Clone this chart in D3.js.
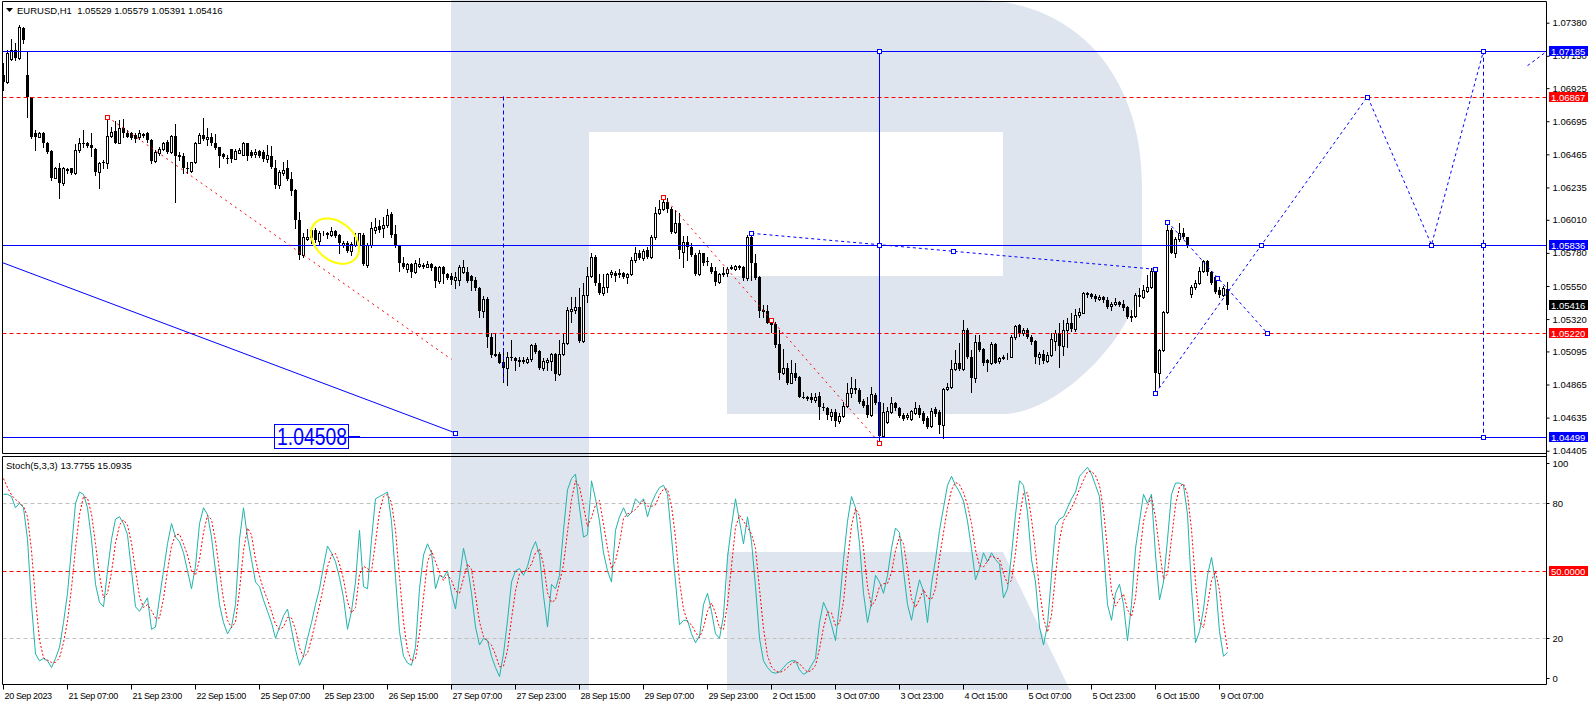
<!DOCTYPE html>
<html>
<head>
<meta charset="utf-8">
<script src="https://cdn.jsdelivr.net/npm/d3@7"></script>
<style>
  body { margin: 0; background: #fff; }
  svg text { font-family: "Liberation Sans", Arial, sans-serif; }
</style>
</head>
<body>
<div id="chart"></div>
<script>
// EURUSD H1 candles (bar 0 = 20 Sep 2023)
var opens = [
  1.07017,1.06970,1.07126,1.07190,1.07133,1.07346,1.07017,1.06866,1.06611,1.06588,
  1.06616,1.06546,1.06491,1.06303,1.06368,1.06264,1.06361,1.06368,1.06333,1.06495,
  1.06546,1.06546,1.06530,1.06500,1.06345,1.06414,1.06403,1.06593,1.06627,1.06546,
  1.06651,1.06616,1.06611,1.06600,1.06583,1.06607,1.06616,1.06565,1.06421,1.06477,
  1.06500,1.06553,1.06484,1.06593,1.06461,1.06454,1.06373,1.06352,1.06410,1.06546,
  1.06600,1.06570,1.06588,1.06546,1.06514,1.06468,1.06437,1.06505,1.06435,1.06477,
  1.06461,1.06542,1.06484,1.06468,1.06491,1.06484,1.06430,1.06454,1.06368,1.06252,
  1.06333,1.06368,1.06291,1.06217,1.06009,1.05765,1.05879,1.05939,1.05939,1.05865,
  1.05916,1.05916,1.05905,1.05935,1.05905,1.05835,1.05851,1.05796,1.05835,1.05835,
  1.05905,1.05696,1.05835,1.05939,1.05967,1.05951,1.05974,1.06051,1.05909,1.05828,
  1.05712,1.05666,1.05701,1.05650,1.05689,1.05696,1.05684,1.05700,1.05684,1.05587,
  1.05684,1.05633,1.05619,1.05591,1.05591,1.05649,1.05649,1.05619,1.05591,1.05533,
  1.05378,1.05457,1.05193,1.05070,1.05077,1.05024,1.04977,1.05058,1.05047,1.05035,
  1.05028,1.05024,1.05040,1.05140,1.05098,1.04977,1.05024,1.05031,1.05077,1.04938,
  1.05077,1.05156,1.05378,1.05383,1.05406,1.05170,1.05487,1.05619,1.05754,1.05568,
  1.05499,1.05545,1.05633,1.05638,1.05633,1.05638,1.05610,1.05633,1.05730,1.05781,
  1.05742,1.05800,1.05754,1.05888,1.06055,1.06083,1.06136,1.06083,1.05927,1.05985,
  1.05788,1.05858,1.05823,1.05765,1.05633,1.05777,1.05726,1.05684,1.05656,1.05580,
  1.05633,1.05638,1.05672,1.05666,1.05684,1.05679,1.05603,1.05888,1.05712,1.05615,
  1.05378,1.05378,1.05309,1.05286,1.05147,1.04943,1.04977,1.04878,1.04943,1.04919,
  1.04780,1.04776,1.04776,1.04757,1.04785,1.04711,1.04699,1.04647,1.04677,1.04614,
  1.04647,1.04716,1.04809,1.04839,1.04827,1.04753,1.04723,1.04654,1.04793,1.04746,
  1.04508,1.04607,1.04677,1.04739,1.04700,1.04654,1.04642,1.04623,1.04670,1.04700,
  1.04665,1.04630,1.04577,1.04693,1.04677,1.04584,1.04832,1.04846,1.04971,1.05017,
  1.04971,1.05244,1.05059,1.04908,1.05163,1.05110,1.05036,1.05017,1.05147,1.05031,
  1.05047,1.05054,1.05059,1.05193,1.05279,1.05221,1.05244,1.05198,1.05170,1.05054,
  1.05078,1.05031,1.05071,1.05170,1.05226,1.05133,1.05244,1.05295,1.05249,1.05349,
  1.05365,1.05495,1.05495,1.05481,1.05458,1.05476,1.05453,1.05411,1.05425,1.05441,
  1.05425,1.05402,1.05337,1.05342,1.05488,1.05471,1.05518,1.05541,1.05650,1.04948,
  1.05105,1.05372,1.05939,1.05782,1.05875,1.05921,1.05888,1.05495,1.05541,1.05573,
  1.05657,1.05726,1.05650,1.05610,1.05522,1.05488,1.05529
];
var highs = [
  1.07098,1.07190,1.07265,1.07242,1.07364,1.07353,1.07179,1.06866,1.06634,1.06623,
  1.06623,1.06553,1.06495,1.06380,1.06403,1.06380,1.06373,1.06373,1.06537,1.06577,
  1.06634,1.06553,1.06616,1.06507,1.06414,1.06426,1.06727,1.06658,1.06699,1.06704,
  1.06709,1.06634,1.06623,1.06611,1.06634,1.06616,1.06623,1.06570,1.06495,1.06519,
  1.06553,1.06565,1.06600,1.06676,1.06484,1.06472,1.06414,1.06414,1.06553,1.06611,
  1.06715,1.06646,1.06611,1.06604,1.06519,1.06477,1.06461,1.06505,1.06500,1.06507,
  1.06553,1.06546,1.06495,1.06500,1.06495,1.06495,1.06530,1.06523,1.06426,1.06356,
  1.06414,1.06426,1.06345,1.06222,1.06067,1.05916,1.05944,1.05962,1.05951,1.05935,
  1.05935,1.05928,1.05958,1.05939,1.05909,1.05865,1.05865,1.05858,1.05916,1.05921,
  1.05916,1.05847,1.05997,1.06020,1.06009,1.06032,1.06083,1.06067,1.05974,1.05835,
  1.05754,1.05712,1.05708,1.05731,1.05742,1.05707,1.05726,1.05707,1.05689,1.05689,
  1.05689,1.05642,1.05638,1.05649,1.05696,1.05730,1.05684,1.05626,1.05615,1.05540,
  1.05480,1.05475,1.05225,1.05225,1.05093,1.05116,1.05093,1.05174,1.05058,1.05058,
  1.05058,1.05058,1.05147,1.05156,1.05105,1.05047,1.05047,1.05086,1.05086,1.05174,
  1.05221,1.05406,1.05475,1.05475,1.05533,1.05568,1.05679,1.05777,1.05765,1.05633,
  1.05633,1.05642,1.05661,1.05656,1.05666,1.05649,1.05642,1.05749,1.05818,1.05800,
  1.05805,1.05823,1.05904,1.06101,1.06147,1.06171,1.06159,1.06101,1.06078,1.06055,
  1.05897,1.05897,1.05846,1.05777,1.05800,1.05781,1.05754,1.05707,1.05684,1.05638,
  1.05679,1.05684,1.05696,1.05696,1.05698,1.05689,1.05904,1.05916,1.05772,1.05619,
  1.05418,1.05418,1.05325,1.05302,1.05244,1.05109,1.05012,1.05035,1.05012,1.04924,
  1.04815,1.04785,1.04808,1.04803,1.04815,1.04739,1.04711,1.04693,1.04693,1.04665,
  1.04746,1.04878,1.04920,1.04901,1.04839,1.04762,1.04781,1.04846,1.04804,1.04758,
  1.04735,1.04712,1.04781,1.04746,1.04712,1.04665,1.04665,1.04688,1.04746,1.04723,
  1.04684,1.04647,1.04700,1.04712,1.04688,1.04839,1.04874,1.05036,1.05105,1.05152,
  1.05314,1.05256,1.05105,1.05210,1.05210,1.05117,1.05041,1.05163,1.05152,1.05059,
  1.05071,1.05087,1.05210,1.05279,1.05286,1.05256,1.05256,1.05210,1.05175,1.05094,
  1.05105,1.05094,1.05226,1.05244,1.05291,1.05314,1.05325,1.05360,1.05388,1.05395,
  1.05511,1.05511,1.05504,1.05495,1.05488,1.05481,1.05471,1.05441,1.05465,1.05448,
  1.05453,1.05411,1.05383,1.05499,1.05534,1.05557,1.05627,1.05673,1.05666,1.05110,
  1.05379,1.05997,1.05951,1.05893,1.05986,1.05951,1.05893,1.05557,1.05592,1.05685,
  1.05731,1.05731,1.05655,1.05620,1.05546,1.05550,1.05579
];
var lows = [
  1.06912,1.06963,1.07121,1.07121,1.07128,1.07237,1.06727,1.06576,1.06495,1.06583,
  1.06519,1.06477,1.06287,1.06298,1.06159,1.06252,1.06338,1.06329,1.06329,1.06484,
  1.06519,1.06519,1.06454,1.06322,1.06229,1.06368,1.06368,1.06588,1.06542,1.06542,
  1.06588,1.06583,1.06570,1.06553,1.06570,1.06583,1.06553,1.06403,1.06414,1.06461,
  1.06495,1.06472,1.06477,1.06136,1.06426,1.06333,1.06333,1.06345,1.06403,1.06542,
  1.06565,1.06530,1.06530,1.06502,1.06380,1.06437,1.06407,1.06414,1.06430,1.06472,
  1.06461,1.06426,1.06449,1.06449,1.06449,1.06421,1.06414,1.06368,1.06229,1.06229,
  1.06322,1.06287,1.06183,1.05951,1.05735,1.05754,1.05870,1.05847,1.05858,1.05835,
  1.05905,1.05881,1.05898,1.05893,1.05782,1.05823,1.05789,1.05765,1.05828,1.05823,
  1.05696,1.05684,1.05823,1.05916,1.05928,1.05893,1.05962,1.05893,1.05823,1.05657,
  1.05673,1.05650,1.05610,1.05643,1.05679,1.05672,1.05679,1.05661,1.05545,1.05573,
  1.05568,1.05596,1.05564,1.05533,1.05557,1.05638,1.05580,1.05522,1.05522,1.05337,
  1.05337,1.05128,1.05058,1.05063,1.05012,1.04885,1.04862,1.05035,1.04966,1.04994,
  1.05012,1.05012,1.05031,1.05082,1.04970,1.04966,1.04966,1.04966,1.04896,1.04931,
  1.05070,1.05147,1.05302,1.05360,1.05163,1.05163,1.05441,1.05615,1.05557,1.05494,
  1.05487,1.05510,1.05615,1.05587,1.05615,1.05603,1.05568,1.05626,1.05719,1.05735,
  1.05730,1.05742,1.05742,1.05874,1.06050,1.06078,1.06066,1.05920,1.05916,1.05742,
  1.05684,1.05730,1.05758,1.05626,1.05626,1.05696,1.05696,1.05638,1.05557,1.05568,
  1.05619,1.05619,1.05666,1.05661,1.05670,1.05591,1.05591,1.05591,1.05596,1.05337,
  1.05337,1.05290,1.05232,1.05128,1.04901,1.04938,1.04868,1.04873,1.04896,1.04776,
  1.04769,1.04757,1.04746,1.04746,1.04623,1.04688,1.04623,1.04619,1.04577,1.04600,
  1.04637,1.04712,1.04781,1.04809,1.04735,1.04712,1.04642,1.04647,1.04730,1.04460,
  1.04503,1.04600,1.04665,1.04688,1.04642,1.04619,1.04623,1.04619,1.04661,1.04642,
  1.04600,1.04561,1.04572,1.04647,1.04526,1.04491,1.04827,1.04839,1.04966,1.04966,
  1.04966,1.05047,1.04816,1.04885,1.05101,1.05001,1.04962,1.05008,1.05013,1.05013,
  1.05041,1.05041,1.05054,1.05180,1.05203,1.05210,1.05186,1.05147,1.05017,1.05008,
  1.05013,1.05024,1.05064,1.05105,1.04985,1.05071,1.05129,1.05240,1.05240,1.05337,
  1.05360,1.05476,1.05465,1.05448,1.05453,1.05441,1.05395,1.05383,1.05418,1.05411,
  1.05383,1.05325,1.05309,1.05332,1.05411,1.05465,1.05511,1.05534,1.04804,1.04855,
  1.05101,1.05360,1.05777,1.05749,1.05865,1.05882,1.05819,1.05476,1.05527,1.05564,
  1.05650,1.05627,1.05564,1.05504,1.05476,1.05481,1.05391
];
var closes = [
  1.06970,1.07167,1.07190,1.07133,1.07353,1.07260,1.06866,1.06588,1.06583,1.06616,
  1.06546,1.06484,1.06303,1.06368,1.06264,1.06368,1.06352,1.06333,1.06495,1.06542,
  1.06537,1.06523,1.06507,1.06345,1.06407,1.06403,1.06593,1.06623,1.06546,1.06651,
  1.06611,1.06588,1.06577,1.06570,1.06616,1.06593,1.06565,1.06421,1.06484,1.06500,
  1.06542,1.06484,1.06593,1.06454,1.06449,1.06368,1.06361,1.06410,1.06546,1.06600,
  1.06570,1.06588,1.06546,1.06507,1.06454,1.06449,1.06430,1.06435,1.06491,1.06495,
  1.06542,1.06454,1.06454,1.06484,1.06454,1.06430,1.06461,1.06375,1.06252,1.06345,
  1.06356,1.06291,1.06213,1.06009,1.05765,1.05888,1.05888,1.05881,1.05870,1.05916,
  1.05921,1.05905,1.05935,1.05898,1.05847,1.05851,1.05796,1.05842,1.05888,1.05916,
  1.05703,1.05835,1.05951,1.05962,1.05939,1.05974,1.06044,1.05905,1.05828,1.05708,
  1.05680,1.05703,1.05650,1.05708,1.05700,1.05684,1.05700,1.05672,1.05587,1.05684,
  1.05633,1.05603,1.05591,1.05615,1.05684,1.05684,1.05587,1.05587,1.05533,1.05378,
  1.05457,1.05193,1.05070,1.05077,1.05017,1.04977,1.05058,1.05047,1.05031,1.05024,
  1.05035,1.05040,1.05140,1.05093,1.04977,1.05031,1.05035,1.05077,1.04938,1.05077,
  1.05156,1.05383,1.05388,1.05401,1.05170,1.05487,1.05619,1.05754,1.05568,1.05499,
  1.05545,1.05633,1.05649,1.05619,1.05638,1.05610,1.05633,1.05730,1.05781,1.05742,
  1.05795,1.05754,1.05888,1.06055,1.06083,1.06136,1.06083,1.05927,1.05985,1.05800,
  1.05858,1.05823,1.05765,1.05633,1.05777,1.05707,1.05717,1.05649,1.05580,1.05633,
  1.05638,1.05666,1.05684,1.05689,1.05689,1.05603,1.05888,1.05712,1.05603,1.05378,
  1.05383,1.05295,1.05279,1.05140,1.04943,1.04977,1.04878,1.04947,1.04908,1.04780,
  1.04776,1.04767,1.04757,1.04780,1.04711,1.04699,1.04653,1.04677,1.04614,1.04647,
  1.04716,1.04809,1.04839,1.04827,1.04746,1.04716,1.04654,1.04800,1.04739,1.04508,
  1.04677,1.04684,1.04739,1.04700,1.04647,1.04623,1.04654,1.04684,1.04700,1.04654,
  1.04614,1.04572,1.04684,1.04661,1.04584,1.04832,1.04846,1.04971,1.05017,1.04971,
  1.05244,1.05059,1.04908,1.05163,1.05105,1.05017,1.05017,1.05147,1.05017,1.05047,
  1.05059,1.05059,1.05198,1.05272,1.05217,1.05244,1.05193,1.05163,1.05059,1.05078,
  1.05031,1.05071,1.05180,1.05221,1.05133,1.05244,1.05295,1.05249,1.05349,1.05372,
  1.05499,1.05499,1.05476,1.05458,1.05476,1.05453,1.05402,1.05425,1.05441,1.05418,
  1.05395,1.05332,1.05342,1.05488,1.05471,1.05522,1.05541,1.05657,1.04948,1.05105,
  1.05372,1.05939,1.05782,1.05875,1.05921,1.05888,1.05828,1.05541,1.05573,1.05657,
  1.05726,1.05650,1.05573,1.05511,1.05488,1.05534,1.05416
];

// Stochastic(5,3,3) main and signal
var stochMain = [
  84,84,83,78,80,78,64,35,13,10, 11,10,7,11,16,27,40,60,80,85,
  84,78,64,44,36,34,50,64,73,74, 71,66,50,34,32,35,38,24,25,38,
  50,62,71,65,63,58,50,42,52,71, 78,75,65,50,35,27,22,25,35,64,
  78,65,55,45,43,37,32,27,20,25, 30,33,24,15,8,12,20,27,35,42,
  52,61,58,54,47,38,24,32,45,68, 43,42,64,82,83,84,85,72,47,23,
  12,9,8,16,42,57,62,58,42,48, 47,50,40,33,47,60,52,40,25,17,
  20,19,12,7,3,13,28,45,50,51, 48,52,59,63,57,39,25,44,42,48,
  68,86,91,93,78,65,66,90,82,72, 58,50,45,68,74,78,74,76,82,80,
  82,74,80,84,87,88,84,65,45,26, 28,28,22,18,21,35,40,32,22,20,
  30,56,70,82,72,62,74,63,43,20, 10,7,5,4.5,5,7,9,10,10,6,
  4,5,8,11,27,36,32,26,19,35, 55,72,83,78,62,40,27,36,48,45,
  40,48,60,69,67,50,35,28,38,46, 41,27,44,55,68,78,88,92,88,85,
  81,72,60,46,51,58,54,58,55,53, 38,42,57,75,90,88,76,55,45,25,
  17,26,48,70,73,74,78,82,85,92, 94,96,93,88,83,60,35,28,40,44,
  35,19,35,60,72,84,80,84,57,37, 45,64,84,89,89,88,75,42,18,23,
  33,48,56,45,23,12,13.7755
];
var stochSignal = [
  91,87,83.7,81.7,80.3,78.7,74,59,37.3,19.3, 11.3,10.3,9.3,9.3,11.3,18,27.7,42.3,60,75,
  83,82.3,75.3,62,48,38,40,49.3,62.3,70.3, 72.7,70.3,62.3,50,38.7,33.7,35,32.3,29,29,
  37.7,50,61,66,66.3,62,57,50,48,55, 67,74.7,72.7,63.3,50,37.3,28,24.7,27.3,41.3,
  59,69,66,55,47.7,41.7,37.3,32,26.3,24, 25,29.3,29,24,15.7,11.7,13.3,19.7,27.3,34.7,
  43,51.7,57,57.7,53,46.3,36.3,31.3,33.7,48.3, 52,51,49.7,62.7,76.3,83,84,80.3,68,47.3,
  27.3,14.7,9.7,11,22,38.3,53.7,59,54,49.3, 45.7,48.3,45.7,41,40,46.7,53,50.7,39,27.3,
  20.7,18.7,17,12.7,7.3,7.7,14.7,28.7,41,48.7, 49.7,50.3,53,58,59.7,53,40.3,36,37,44.7,
  52.7,67.3,81.7,90,87.3,78.7,69.7,73.7,79.3,81.3, 70.7,60,51,54.3,62.3,73.3,75.3,76,77.3,79.3,
  81.3,78.7,78.7,79.3,83.7,86.3,86.3,79,64.7,45.3, 33,27.3,26,22.7,20.3,24.7,32,35.7,31.3,24.7,
  24,35.3,52,69.3,74.7,72,69.3,66.3,60,42, 24.3,12.3,7.3,5.5,4.8,5.5,7,8.7,9.7,8.7,
  6.7,5,5.7,8,15.3,24.7,31.7,31.3,25.7,26.7, 36.3,54,70,77.7,74.3,60,43,34.3,37,43,
  44.3,44.3,49.3,59,65.3,62,50.7,37.7,33.7,37.3, 41.7,38,37.3,42,55.7,67,78,86,89.3,88.3,
  84.7,79.3,71,59.3,52.3,51.7,54.3,56.7,55.7,55.3, 48.7,44.3,45.7,58,74,84.3,84.7,73,58.7,41.7,
  29,22.7,30.3,48,63.7,72.3,75,78,81.7,86.3, 90.3,94,94.3,92.3,88,77,59.3,41,34.3,37.3,
  39.7,32.7,29.7,38,55.7,72,78.7,82.7,73.7,59.3, 46.3,48.7,64.3,79,87.3,88.7,84,68.3,45,27.7,
  24.7,34.7,45.7,49.7,41.3,26.7,15.0935
];

// axis ticks
var priceTicks = [1.07380, 1.07150, 1.06925, 1.06695, 1.06465, 1.06235, 1.06010,
  1.05780, 1.05550, 1.05320, 1.05095, 1.04865, 1.04635, 1.04405];
var stochTicks = [100, 80, 20, 0];
var stochLevels = [80, 50, 20];
var timeLabels = ["20 Sep 2023", "21 Sep 07:00", "21 Sep 23:00", "22 Sep 15:00", "25 Sep 07:00",
  "25 Sep 23:00", "26 Sep 15:00", "27 Sep 07:00", "27 Sep 23:00", "28 Sep 15:00",
  "29 Sep 07:00", "29 Sep 23:00", "2 Oct 15:00", "3 Oct 07:00", "3 Oct 23:00",
  "4 Oct 15:00", "5 Oct 07:00", "5 Oct 23:00", "6 Oct 15:00", "9 Oct 07:00"];
var timeLabelBars = d3.range(timeLabels.length).map(function (k) { return k * 16; });

// drawn objects: [bar, price]
var blueLevels = [1.07185, 1.05836, 1.04499];
var redLevels = [1.06867, 1.05220];
var blueTrend = [[-1, 1.05720], [113, 1.04528]];
var redTrends = [
  [[26, 1.06725], [112, 1.05040]],
  [[165, 1.06171], [219, 1.04460]]
];
var slopedDash = [[187, 1.05916], [288, 1.05666]];
var fallPath = [[291, 1.05997], [316, 1.05220]];
var forecastPath = [[288, 1.04804], [341, 1.06867], [357, 1.05836], [370, 1.07185]];
var tailPath = [[381, 1.07081], [386, 1.07185]];
var vertSolid = [219, 1.07185, 1.04460];
var vertDash = [[125, 1.06867, 1.04885], [370, 1.07185, 1.04499]];
var textLevel = [68, 1.04508];
var circleAt = [83, 1.05862];

buildChart();

function buildChart() {
  var W = 1592, H = 705;
  var left = 2.5, right = 1546.5, mainTop = 1.5, mainBottom = 453.5,
    stochTop = 456.5, stochBottom = 684.5;
  var blue = "#0000ff", red = "#ff0000";

  var svg = d3.select("#chart").append("svg")
    .attr("width", W).attr("height", H)
    .style("display", "block");

  svg.append("rect").attr("width", W).attr("height", H).attr("fill", "#fff");

  // watermark logo behind everything
  var logo = svg.append("g").attr("fill", "#dee5ef");
  logo.append("rect").attr("x", 451).attr("y", 0).attr("width", 138).attr("height", 690);
  logo.append("path").attr("d",
    "M589,0 H975 C1075,0 1142,75 1142,185 V270 C1142,330 1060,414 1003,414 H727 V276 H1003 V132 H589 Z");
  logo.append("path").attr("d", "M727,552 H1003 L1070,690 H727 Z");

  var x = d3.scaleLinear().domain([0, 386]).range([3, 3 + 386 * 4]);
  var y = d3.scaleLinear().domain([1.04405, 1.07380]).range([450.7, 22.7]);
  var ys = d3.scaleLinear().domain([0, 100]).range([683.3, 458.3]);

  var defs = svg.append("defs");
  defs.append("clipPath").attr("id", "clipMain").append("rect")
    .attr("x", left).attr("y", mainTop).attr("width", right - left).attr("height", mainBottom - mainTop);
  defs.append("clipPath").attr("id", "clipStoch").append("rect")
    .attr("x", left).attr("y", stochTop).attr("width", right - left).attr("height", stochBottom - stochTop);

  // ---------- price panel ----------
  var main = svg.append("g").attr("clip-path", "url(#clipMain)");

  var bars = d3.range(closes.length).map(function (i) {
    return { i: i, o: opens[i], h: highs[i], l: lows[i], c: closes[i] };
  });

  var candle = main.append("g").selectAll("g").data(bars).enter().append("g");
  candle.append("line")
    .attr("x1", function (d) { return Math.round(x(d.i)) + 0.5; })
    .attr("x2", function (d) { return Math.round(x(d.i)) + 0.5; })
    .attr("y1", function (d) { return Math.round(y(d.h)); })
    .attr("y2", function (d) { return Math.round(y(d.l)) + 1; })
    .attr("stroke", "#000").attr("stroke-width", 1);
  candle.append("rect")
    .attr("x", function (d) { var cx = Math.round(x(d.i)); return d.c >= d.o ? cx - 0.5 : cx - 1; })
    .attr("y", function (d) {
      var t = Math.round(y(Math.max(d.o, d.c)));
      return d.c >= d.o ? t + 0.5 : t;
    })
    .attr("width", function (d) { return d.c >= d.o ? 2 : 3; })
    .attr("height", function (d) {
      var h = Math.round(y(Math.min(d.o, d.c))) - Math.round(y(Math.max(d.o, d.c)));
      return d.c >= d.o ? Math.max(h, 0) : Math.max(h, 1);
    })
    .attr("fill", function (d) { return d.c >= d.o ? "#fff" : "#000"; })
    .attr("stroke", function (d) { return d.c >= d.o ? "#000" : "none"; })
    .attr("stroke-width", 1);

  // horizontal levels
  main.selectAll(".blueLevel").data(blueLevels).enter().append("line")
    .attr("x1", left).attr("x2", right)
    .attr("y1", function (d) { return Math.round(y(d)) + 0.5; })
    .attr("y2", function (d) { return Math.round(y(d)) + 0.5; })
    .attr("stroke", blue).attr("stroke-width", 1);
  main.selectAll(".redLevel").data(redLevels).enter().append("line")
    .attr("x1", left).attr("x2", right)
    .attr("y1", function (d) { return Math.round(y(d)) + 0.5; })
    .attr("y2", function (d) { return Math.round(y(d)) + 0.5; })
    .attr("stroke", red).attr("stroke-width", 1).attr("stroke-dasharray", "4,3");

  var pathLine = d3.line()
    .x(function (p) { return x(p[0]) + 0.5; })
    .y(function (p) { return y(p[1]); });

  main.append("path").attr("d", pathLine(blueTrend))
    .attr("fill", "none").attr("stroke", blue).attr("stroke-width", 1);
  redTrends.forEach(function (seg) {
    main.append("path").attr("d", pathLine(seg))
      .attr("fill", "none").attr("stroke", red).attr("stroke-width", 1).attr("stroke-dasharray", "2,4");
  });
  [slopedDash, fallPath, forecastPath, tailPath].forEach(function (seg) {
    main.append("path").attr("d", pathLine(seg))
      .attr("fill", "none").attr("stroke", blue).attr("stroke-width", 1).attr("stroke-dasharray", "3,3");
  });

  // vertical lines
  main.append("line")
    .attr("x1", Math.round(x(vertSolid[0])) + 0.5).attr("x2", Math.round(x(vertSolid[0])) + 0.5)
    .attr("y1", y(vertSolid[1])).attr("y2", y(vertSolid[2]))
    .attr("stroke", blue).attr("stroke-width", 1);
  vertDash.forEach(function (v) {
    main.append("line")
      .attr("x1", Math.round(x(v[0])) + 0.5).attr("x2", Math.round(x(v[0])) + 0.5)
      .attr("y1", y(v[1])).attr("y2", y(v[2]))
      .attr("stroke", blue).attr("stroke-width", 1).attr("stroke-dasharray", "4,3");
  });

  // anchor squares of the selected objects
  function mid(a, b) { return [(a[0] + b[0]) / 2, (a[1] + b[1]) / 2]; }
  var blueMarks = [blueTrend[1], slopedDash[0], mid(slopedDash[0], slopedDash[1]), slopedDash[1],
    fallPath[0], mid(fallPath[0], fallPath[1]), fallPath[1],
    forecastPath[0], mid(forecastPath[0], forecastPath[1]), forecastPath[1], forecastPath[2], forecastPath[3],
    [vertSolid[0], vertSolid[1]], [vertSolid[0], blueLevels[1]],
    [vertDash[1][0], vertDash[1][1]], [vertDash[1][0], blueLevels[1]], [vertDash[1][0], vertDash[1][2]]];
  var redMarks = [redTrends[0][0], redTrends[1][0], mid(redTrends[1][0], redTrends[1][1]), redTrends[1][1]];
  function marks(list, color) {
    main.selectAll(null).data(list).enter().append("rect")
      .attr("x", function (p) { return Math.round(x(p[0])) - 1.5; })
      .attr("y", function (p) { return Math.round(y(p[1])) - 1.5; })
      .attr("width", 4).attr("height", 4)
      .attr("fill", "#fff").attr("stroke", color).attr("stroke-width", 1);
  }
  marks(blueMarks, blue);
  marks(redMarks, red);

  // yellow ellipse
  main.append("ellipse")
    .attr("transform", "translate(" + x(circleAt[0]) + "," + y(circleAt[1]) + ") rotate(40)")
    .attr("rx", 27).attr("ry", 19)
    .attr("fill", "none").attr("stroke", "#ffff00").attr("stroke-width", 2);

  // text object 1.04508
  var tx = x(textLevel[0]), ty = y(textLevel[1]);
  main.append("rect").attr("x", Math.round(tx) - 0.5).attr("y", Math.round(ty) - 11.5)
    .attr("width", 74).attr("height", 24)
    .attr("fill", "none").attr("stroke", blue).attr("stroke-width", 1);
  main.append("text").attr("x", tx + 2).attr("y", ty + 9)
    .attr("font-size", "23px").attr("fill", blue)
    .attr("textLength", 70).attr("lengthAdjust", "spacingAndGlyphs")
    .text(d3.format(".5f")(textLevel[1]));
  main.append("line").attr("x1", tx + 74).attr("x2", tx + 85)
    .attr("y1", Math.round(ty) + 0.5).attr("y2", Math.round(ty) + 0.5)
    .attr("stroke", blue);

  // header
  var last = closes.length - 1;
  svg.append("path").attr("d", "M6,8 L13,8 L9.5,12 Z").attr("fill", "#000");
  svg.append("text").attr("x", 17).attr("y", 14).attr("font-size", "9.5px")
    .text("EURUSD,H1  " + [opens[last], highs[last], lows[last], closes[last]]
      .map(d3.format(".5f")).join(" "))
    .attr("xml:space", "preserve");

  // ---------- stochastic panel ----------
  var st = svg.append("g").attr("clip-path", "url(#clipStoch)");
  st.selectAll(".lvl").data(stochLevels).enter().append("line")
    .attr("x1", left).attr("x2", right)
    .attr("y1", function (d) { return Math.round(ys(d)) + 0.5; })
    .attr("y2", function (d) { return Math.round(ys(d)) + 0.5; })
    .attr("stroke", function (d) { return d === 50 ? red : "#c0c0c0"; })
    .attr("stroke-dasharray", "4,3");

  var kLine = d3.line()
    .x(function (d, i) { return x(i) + 0.5; })
    .y(function (d) { return ys(d); });
  st.append("path").attr("d", kLine(stochMain))
    .attr("fill", "none").attr("stroke", "#20b2aa").attr("stroke-width", 1);
  st.append("path").attr("d", kLine(stochSignal))
    .attr("fill", "none").attr("stroke", red).attr("stroke-width", 1).attr("stroke-dasharray", "2,2");

  svg.append("text").attr("x", 6).attr("y", 469).attr("font-size", "9.5px")
    .text("Stoch(5,3,3) " + d3.format(".4f")(stochMain[last]) + " " + d3.format(".4f")(stochSignal[last]));

  // ---------- frames ----------
  var frame = svg.append("g").attr("fill", "none").attr("stroke", "#000").attr("stroke-width", 1);
  frame.append("path").attr("d", "M" + right + "," + mainBottom + " H" + left + " V" + mainTop + " H" + right + " V" + stochBottom + " H" + left + " V" + stochTop + " H" + right);

  // ---------- axes ----------
  var pAxis = svg.append("g").attr("transform", "translate(" + right + ",0)")
    .call(d3.axisRight(y).tickValues(priceTicks).tickFormat(d3.format(".5f")).tickSize(3).tickPadding(3));
  pAxis.select(".domain").remove();
  pAxis.selectAll("text").attr("font-size", "9.5px").attr("fill", "#000").attr("font-family", "Liberation Sans, Arial, sans-serif");

  var sAxis = svg.append("g").attr("transform", "translate(" + right + ",0)")
    .call(d3.axisRight(ys).tickValues(stochTicks).tickSize(3).tickPadding(3));
  sAxis.select(".domain").remove();
  sAxis.selectAll(".tick").attr("transform", function (d) {
    var yy = ys(d);
    if (d === 100) yy += 5;
    if (d === 0) yy -= 5.5;
    return "translate(0," + (Math.round(yy) + 0.5) + ")";
  });
  sAxis.selectAll("text").attr("font-size", "9.5px").attr("fill", "#000").attr("font-family", "Liberation Sans, Arial, sans-serif");

  var tAxis = svg.append("g").attr("transform", "translate(0," + stochBottom + ")")
    .call(d3.axisBottom(x).tickValues(timeLabelBars)
      .tickFormat(function (d, i) { return timeLabels[i]; }).tickSize(5).tickPadding(3));
  tAxis.select(".domain").remove();
  tAxis.selectAll("text").attr("text-anchor", "start").attr("x", 1)
    .attr("font-size", "9px").attr("letter-spacing", "-0.35px").attr("fill", "#000")
    .attr("font-family", "Liberation Sans, Arial, sans-serif");

  // ---------- price boxes on the right scale ----------
  function priceBox(yy, label, bg) {
    var yr = Math.round(yy);
    svg.append("rect").attr("x", 1549).attr("y", yr - 5).attr("width", 39).attr("height", 10).attr("fill", bg);
    svg.append("text").attr("x", 1551).attr("y", yr + 3.5).attr("font-size", "9.5px")
      .attr("fill", "#fff").text(label);
  }
  blueLevels.forEach(function (p) { priceBox(y(p), d3.format(".5f")(p), blue); });
  redLevels.forEach(function (p) { priceBox(y(p), d3.format(".5f")(p), red); });
  priceBox(y(closes[last]), d3.format(".5f")(closes[last]), "#000");
  priceBox(ys(50), d3.format(".4f")(50), red);
}
</script>
</body>
</html>
